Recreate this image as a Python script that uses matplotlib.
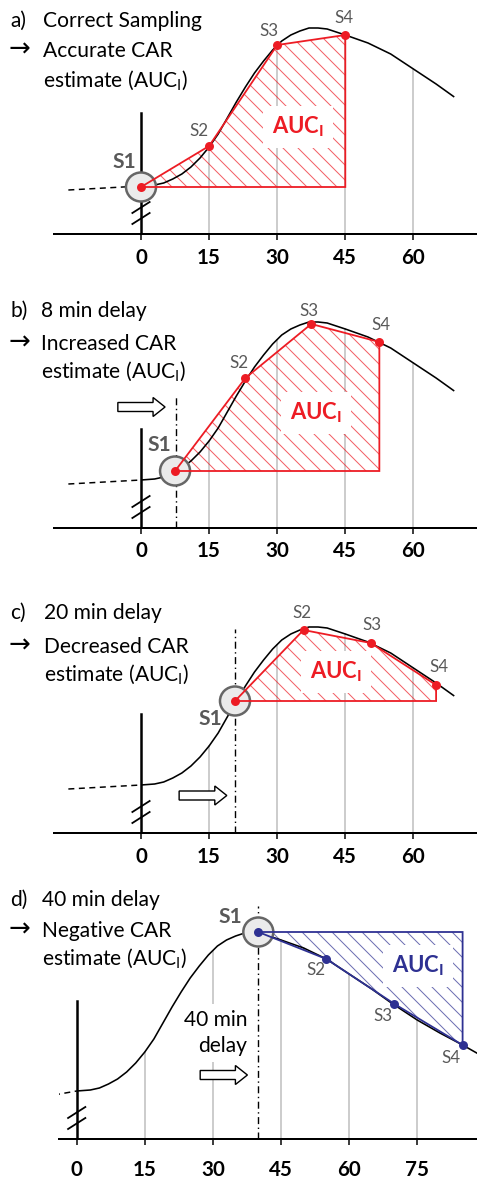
import numpy as np
import matplotlib
matplotlib.use("Agg")
import matplotlib.pyplot as plt
from matplotlib.patches import Polygon, Ellipse, FancyArrow

# Données (minutes, hauteur au-dessus de l'axe)

curve_t = [0, 3, 5, 7, 9, 11, 13, 15, 17, 19, 21, 23, 25, 27, 29, 31, 33, 35, 37, 39,
           41, 43, 45, 50, 55, 60, 65, 69, 75, 80, 85, 88.5]
curve_y = [48, 49, 51, 55, 60, 67, 76, 87, 100, 116, 132, 147, 161, 173, 184, 193, 199, 203, 206, 206,
           205, 202, 199, 191, 180, 165, 150, 137, 119, 106, 94, 85]

ticks_abc = [0, 15, 30, 45, 60]
ticks_d = [0, 15, 30, 45, 60, 75]

samp_a_t = [0, 15, 30, 45]
samp_a_y = [47, 88, 189, 199]
samp_b_t = [7.5, 23, 37.5, 52.5]
samp_b_y = [57, 150, 204, 186]
samp_c_t = [20.7, 35.8, 50.6, 65]
samp_c_y = [132, 203, 190, 148]
samp_d_t = [40, 55, 70, 85]
samp_d_y = [207, 180, 135, 94]

sample_names = ["S1", "S2", "S3", "S4"]

titles_a = ["Correct Sampling", "Accurate CAR", "estimate (AUC$_\\mathregular{I}$)"]
titles_b = ["8 min delay", "Increased CAR", "estimate (AUC$_\\mathregular{I}$)"]
titles_c = ["20 min delay", "Decreased CAR", "estimate (AUC$_\\mathregular{I}$)"]
titles_d = ["40 min delay", "Negative CAR", "estimate (AUC$_\\mathregular{I}$)"]


# Mise en page (pixels)
W, H, DPI = 477, 1178, 90
PXMIN = 4.54   # pixels par minute

RED = "#ed1c24"
BLUE = "#2e3192"
GREY_TXT = "#595959"
GRID = "#c8c8c8"

plt.rcParams["font.family"] = ["Lato", "DejaVu Sans"]
plt.rcParams["mathtext.fontset"] = "custom"
plt.rcParams["mathtext.rm"] = "Lato"
plt.rcParams["mathtext.bf"] = "Lato:bold"
plt.rcParams["mathtext.it"] = "Lato:italic"
plt.rcParams["hatch.linewidth"] = 0.8


def pt(px):
    return px * 72 / DPI


fig = plt.figure(figsize=(W / DPI, H / DPI), dpi=DPI)

panels = [
    dict(letter="a)", titles=titles_a, t=samp_a_t, y=samp_a_y, ticks=ticks_abc, color=RED,
         left=54, axis=234, top=0, x0=141, end=69.2, dash_from=-16, yaxis_h=121, delay=None,
         arrow=None, base_lines=[27, 57, 87], text_x=43, auc=(28.9, 100), pad=8,
         lab=[(-3.7, 72), (12.8, 103), (28.1, 203), (44.8, 216)]),
    dict(letter="b)", titles=titles_b, t=samp_b_t, y=samp_b_y, ticks=ticks_abc, color=RED,
         left=54, axis=528, top=290, x0=141, end=69.2, dash_from=-16, yaxis_h=99, delay=(7.7, 131),
         arrow=(-5.1, 5.3, 121), base_lines=[27, 60, 88], text_x=41, auc=(32.8, 108), pad=7,
         lab=[(4.0, 83), (21.5, 165), (36.9, 217), (52.9, 203)]),
    dict(letter="c)", titles=titles_c, t=samp_c_t, y=samp_c_y, ticks=ticks_abc, color=RED,
         left=54, axis=833, top=590, x0=141, end=69.2, dash_from=-16, yaxis_h=119, delay=(20.7, 204),
         arrow=(8.4, 18.9, 37.5), base_lines=[29, 63, 91], text_x=44, auc=(37.2, 154), pad=8,
         lab=[(15.2, 114), (35.4, 220), (50.8, 208), (65.7, 166)]),
    dict(letter="d)", titles=titles_d, t=samp_d_t, y=samp_d_y, ticks=ticks_d, color=BLUE,
         left=59, axis=1139, top=880, x0=76.7, end=88.5, dash_from=-5, yaxis_h=138, delay=(40, 233),
         arrow=(27.2, 37.6, 64), base_lines=[26, 57, 85], text_x=42, auc=(69.4, 166), pad=15,
         lab=[(33.9, 222), (52.7, 169), (67.5, 123), (82.4, 81)]),
]

for P in panels:
    ax = fig.add_axes([P["left"] / W, 1 - P["axis"] / H, (W - P["left"]) / W, (P["axis"] - P["top"]) / H])
    ax.set_xlim(-(P["x0"] - P["left"]) / PXMIN, (W - P["x0"]) / PXMIN)
    ax.set_ylim(0, P["axis"] - P["top"])
    ax.patch.set_alpha(0)
    for s in ["top", "right", "left"]:
        ax.spines[s].set_visible(False)
    ax.spines["bottom"].set_linewidth(pt(2))
    ax.set_yticks([])
    ax.set_xticks(P["ticks"])
    ax.set_xticklabels([str(t) for t in P["ticks"]], fontsize=pt(20.5), fontweight="bold")
    ax.tick_params(axis="x", length=pt(6), width=pt(1.5), pad=pt(P["pad"]))

    # la courbe
    ct = [t for t in curve_t if t <= P["end"]]
    cy = curve_y[:len(ct)]
    ax.plot(ct, cy, color="black", lw=pt(1.6), zorder=2, solid_capstyle="butt")
    ax.plot([P["dash_from"], 0], [cy[0] - 4, cy[0]], color="black", lw=pt(1.5),
            ls=(0, (4, 3)), zorder=2)

    # lignes grises verticales
    for t in P["ticks"][1:]:
        if t <= P["end"]:
            ax.plot([t, t], [0, np.interp(t, curve_t, curve_y)], color=GRID, lw=pt(1.8), zorder=0.5)

    # axe vertical avec la coupure
    ax.plot([0, 0], [0, P["yaxis_h"]], color="black", lw=pt(2.5), zorder=2.5)
    for hb in [26.5, 15.5]:
        ax.plot([-1.9, 1.9], [hb - 5.5, hb + 5.5], color="black", lw=pt(1.8), zorder=2.5)

    # aire AUCi
    t, y = P["t"], P["y"]
    col = P["color"]
    verts = list(zip(t, y)) + [(t[-1], y[0])]
    ax.add_patch(Polygon(verts, closed=True, facecolor="none", edgecolor=col, alpha=0.7,
                         hatch="\\\\", lw=0, zorder=1.5))
    ax.add_patch(Polygon(verts, closed=True, facecolor="none", edgecolor=col, lw=pt(1.8),
                         joinstyle="miter", zorder=4))
    ax.plot(t, y, "o", color=col, ms=pt(9), mec="none", zorder=5)

    # cercle autour de S1
    ax.add_patch(Ellipse((t[0], y[0]), 30 / PXMIN, 29, facecolor="#ebebeb", edgecolor="#666666",
                         lw=pt(2.5), zorder=3.5))

    # étiquettes S1..S4
    for i, (name, (lx, ly)) in enumerate(zip(sample_names, P["lab"])):
        if i == 0:
            ax.text(lx, ly, name, ha="center", va="center", fontsize=pt(21), fontweight="bold",
                    color=GREY_TXT, zorder=6)
        else:
            ax.text(lx, ly, name, ha="center", va="center", fontsize=pt(17), color=GREY_TXT, zorder=6)

    ax.text(P["auc"][0], P["auc"][1], "AUC$_\\mathbf{I}$", ha="left", va="baseline",
            fontsize=pt(22), fontweight="bold", color=col, zorder=6,
            bbox=dict(facecolor="white", edgecolor="none", pad=pt(9)))

    # retard : ligne mixte et flèche
    if P["delay"] is not None:
        ax.plot([P["delay"][0]] * 2, [0, P["delay"][1]], color="black", lw=pt(1.4),
                ls=(0, (5, 2.5, 1, 2.5)), zorder=2.2)
    if P["arrow"] is not None:
        x1, x2, ya = P["arrow"]
        ax.add_patch(FancyArrow(x1, ya, x2 - x1, 0, width=9, head_width=19, head_length=12 / PXMIN,
                                length_includes_head=True, facecolor="white", edgecolor="black",
                                lw=pt(1.4), zorder=6))

    if P["letter"] == "d)":
        ax.text(37.6, 1139 - 1052, "40 min\ndelay", ha="right", va="baseline", fontsize=pt(21),
                linespacing=1.35, zorder=6,
                bbox=dict(facecolor="white", edgecolor="none", pad=pt(6)))

    # titre du panneau
    b = P["base_lines"]
    fig.text(10 / W, 1 - (P["top"] + b[0]) / H, P["letter"], fontsize=pt(21), va="baseline")
    fig.text(9 / W, 1 - (P["top"] + b[1]) / H, "\u2192", fontsize=pt(26), va="baseline",
             family="DejaVu Sans")
    for k in range(3):
        fig.text(P["text_x"] / W, 1 - (P["top"] + b[k]) / H, P["titles"][k], fontsize=pt(21),
                 va="baseline")

fig.savefig("out.png", dpi=DPI)
